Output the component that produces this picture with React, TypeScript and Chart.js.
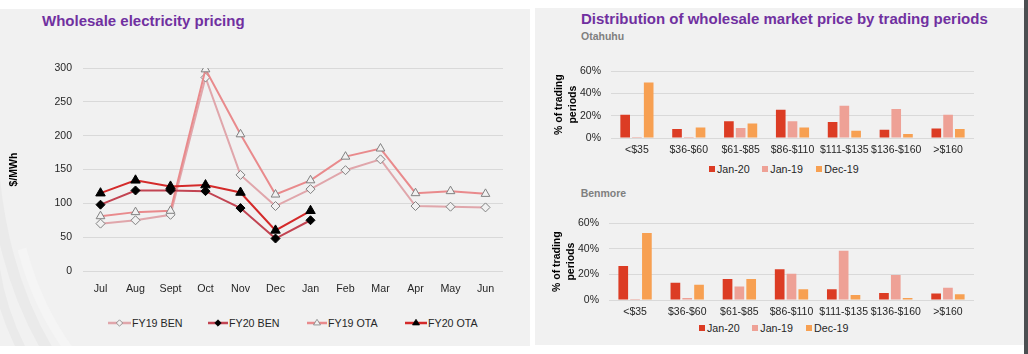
import React, { useEffect, useRef } from 'react';
import Chart from 'chart.js/auto';

const FONT = "'Liberation Sans', Arial, sans-serif";
const PURPLE = '#7030a0';
const TEXT = '#262626';
const GRID = '#d9d9d9';

// ---- Left chart data ----
const months = ['Jul', 'Aug', 'Sept', 'Oct', 'Nov', 'Dec', 'Jan', 'Feb', 'Mar', 'Apr', 'May', 'Jun'];
const fy19Ben = [70, 75, 83, 286, 142, 96, 121, 149, 165, 96, 95, 94];
const fy20Ben = [98, 119, 119, 118, 93, 48, 75, null, null, null, null, null];
const fy19Ota = [81, 87, 89, 298, 202, 113, 134, 169, 181, 115, 118, 114];
const fy20Ota = [115, 134, 125, 127, 116, 60, 89, null, null, null, null, null];
const priceTicks = [0, 50, 100, 150, 200, 250, 300];

// ---- Right charts data ----
const priceBands = ['<$35', '$36-$60', '$61-$85', '$86-$110', '$111-$135', '$136-$160', '>$160'];
const otaJan20 = [21, 8, 15, 25.5, 14.5, 7.5, 8.5];
const otaJan19 = [0.8, 0.8, 9, 15, 29, 26, 21];
const otaDec19 = [50, 9.5, 13, 9.5, 6.5, 3.5, 8];
const benJan20 = [26.5, 13.5, 16.5, 24, 8.5, 5.5, 5];
const benJan19 = [0.8, 1.5, 10.5, 20.5, 38.5, 19.5, 9.5];
const benDec19 = [52.5, 12, 16.5, 8.5, 4, 1.5, 4.5];
const pctTicks = [0, 20, 40, 60];

const C_JAN20 = '#dc3c24';
const C_JAN19 = '#eea196';
const C_DEC19 = '#f7a052';

const lineSeries = [
  { label: 'FY19 BEN', data: fy19Ben, color: '#e0a6ab', style: 'rectRot', r: 4.5, filled: false, order: 3 },
  { label: 'FY20 BEN', data: fy20Ben, color: '#c24452', style: 'rectRot', r: 4.5, filled: true, order: 1 },
  { label: 'FY19 OTA', data: fy19Ota, color: '#e98a8c', style: 'triangle', r: 5, filled: false, order: 2 },
  { label: 'FY20 OTA', data: fy20Ota, color: '#d42a2a', style: 'triangle', r: 5.5, filled: true, order: 0 },
];

function tickFont(size = 10.5) {
  return { family: FONT, size };
}

function makeLineConfig(): any {
  return {
    type: 'line',
    data: {
      labels: months,
      datasets: lineSeries.map((s) => ({
        label: s.label,
        data: s.data,
        borderColor: s.color,
        borderWidth: 2,
        pointStyle: s.style,
        pointRadius: s.r,
        pointBorderWidth: 1,
        pointBorderColor: s.filled ? '#000' : '#808080',
        pointBackgroundColor: s.filled ? '#000' : '#f1f1f1',
        order: s.order,
        tension: 0,
      })),
    },
    options: {
      animation: false,
      responsive: false,
      maintainAspectRatio: false,
      layout: { padding: { top: 28, right: 17, left: 0, bottom: 0 } },
      plugins: { legend: { display: false }, tooltip: { enabled: false } },
      scales: {
        x: {
          offset: true,
          grid: { display: false, drawTicks: false, offset: true },
          border: { display: false },
          ticks: { font: tickFont(10.7), color: TEXT, padding: 12, maxRotation: 0, autoSkip: false },
          afterFit: (s: any) => { s.height = 39; },
        },
        y: {
          min: priceTicks[0],
          max: priceTicks[priceTicks.length - 1],
          afterBuildTicks: (s: any) => { s.ticks = priceTicks.map((v) => ({ value: v })); },
          grid: { color: GRID, lineWidth: 1, drawTicks: false },
          border: { display: false },
          ticks: { font: tickFont(10.5), color: TEXT, padding: 11 },
          title: { display: true, text: '$/MWh', font: { family: FONT, size: 10.5, weight: 'bold' }, color: '#000', padding: { top: 8, bottom: 0 } },
          afterFit: (s: any) => { s.width = 83; },
        },
      },
    },
  };
}

function makeBarConfig(j20: number[], j19: number[], d19: number[], yWidth: number, titlePad: number, xHeight: number): any {
  const mk = (label: string, data: number[], color: string) => ({
    label, data, backgroundColor: color, borderWidth: 0,
    categoryPercentage: 0.68, barPercentage: 0.82,
  });
  return {
    type: 'bar',
    data: {
      labels: priceBands,
      datasets: [mk('Jan-20', j20, C_JAN20), mk('Jan-19', j19, C_JAN19), mk('Dec-19', d19, C_DEC19)],
    },
    options: {
      animation: false,
      responsive: false,
      maintainAspectRatio: false,
      layout: { padding: { top: 15, right: 26, left: 0, bottom: 0 } },
      plugins: { legend: { display: false }, tooltip: { enabled: false } },
      scales: {
        x: {
          grid: { display: false, drawTicks: false },
          border: { display: false },
          ticks: { font: tickFont(10.5), color: TEXT, padding: 6, maxRotation: 0, autoSkip: false },
          afterFit: (s: any) => { s.height = xHeight; },
        },
        y: {
          min: pctTicks[0],
          max: pctTicks[pctTicks.length - 1],
          afterBuildTicks: (s: any) => { s.ticks = pctTicks.map((v) => ({ value: v })); },
          grid: { color: GRID, lineWidth: 1, drawTicks: false },
          border: { display: false },
          ticks: { font: tickFont(10.5), color: TEXT, padding: 10, callback: (v: any) => v + '%' },
          title: {
            display: true,
            text: ['% of trading', 'periods'],
            font: { family: FONT, size: 10.5, weight: 'bold', lineHeight: 1.33 },
            color: '#000',
            padding: { top: titlePad, bottom: 0 },
          },
          afterFit: (s: any) => { s.width = yWidth; },
        },
      },
    },
  };
}

function ChartCanvas({ config, left, top, width, height }: any) {
  const ref = useRef<HTMLCanvasElement | null>(null);
  useEffect(() => {
    const chart = new Chart(ref.current as HTMLCanvasElement, config());
    return () => chart.destroy();
  }, []);
  return (
    <canvas
      ref={ref}
      width={width}
      height={height}
      style={{ position: 'absolute', left, top, width, height }}
    />
  );
}

function LineLegendItem({ s, left, lineW }: any) {
  const cx = lineW / 2;
  const cy = 5;
  const r = 3.2;
  let marker;
  if (s.style === 'rectRot') {
    marker = <polygon points={`${cx},${cy - r} ${cx + r},${cy} ${cx},${cy + r} ${cx - r},${cy}`} fill={s.filled ? '#000' : '#f1f1f1'} stroke={s.filled ? '#000' : '#808080'} strokeWidth={0.8} />;
  } else {
    marker = <polygon points={`${cx},${cy - r - 0.5} ${cx + r + 0.3},${cy + r * 0.6} ${cx - r - 0.3},${cy + r * 0.6}`} fill={s.filled ? '#000' : '#f1f1f1'} stroke={s.filled ? '#000' : '#808080'} strokeWidth={0.8} />;
  }
  return (
    <div style={{ position: 'absolute', left, top: 316.5, height: 12, display: 'flex', alignItems: 'center', whiteSpace: 'nowrap' }}>
      <svg width={lineW} height={10} style={{ display: 'block' }}>
        <line x1={0} y1={cy} x2={lineW} y2={cy} stroke={s.color} strokeWidth={2.5} />
        {marker}
      </svg>
      <span style={{ fontFamily: FONT, fontSize: 10.7, color: TEXT, lineHeight: '12px', marginLeft: 1 }}>{s.label}</span>
    </div>
  );
}

function SquareLegend({ items, top }: any) {
  return (
    <>
      {items.map((it: any) => (
        <div key={it.label} style={{ position: 'absolute', left: it.x, top, height: 12, display: 'flex', alignItems: 'center', whiteSpace: 'nowrap' }}>
          <div style={{ width: 6, height: 6, background: it.color, marginRight: 2 }} />
          <span style={{ fontFamily: FONT, fontSize: 10.7, color: TEXT, lineHeight: '12px' }}>{it.label}</span>
        </div>
      ))}
    </>
  );
}

export default function App() {
  return (
    <div style={{ position: 'fixed', left: 0, top: 0, width: 1028, height: 354, background: '#fff', overflow: 'hidden' }}>
      {/* left panel */}
      <div style={{ position: 'absolute', left: 0, top: 9, width: 530, height: 337, background: '#f1f1f1', overflow: 'hidden' }}>
        <svg width={530} height={337} style={{ position: 'absolute', left: 0, top: 0 }}>
          <path d="M -6 165 Q 4 270 50 345" stroke="#eaeaea" strokeWidth={11} fill="none" />
          <path d="M -6 250 Q 0 300 24 345" stroke="#eaeaea" strokeWidth={9} fill="none" />
          <path d="M 22 240 Q 38 300 72 345" stroke="#f5f5f5" strokeWidth={9} fill="none" />
        </svg>
      </div>
      {/* right panel */}
      <div style={{ position: 'absolute', left: 535, top: 8, width: 489, height: 337, background: '#f1f1f1' }} />
      {/* dark edge */}
      <div style={{ position: 'absolute', left: 1024, top: 0, width: 4, height: 354, background: '#4b4e51' }} />

      <div style={{ position: 'absolute', left: 42, top: 11, fontFamily: FONT, fontSize: 15, fontWeight: 'bold', color: PURPLE, lineHeight: '20px', whiteSpace: 'nowrap' }}>
        Wholesale electricity pricing
      </div>
      <div style={{ position: 'absolute', left: 581, top: 8.5, fontFamily: FONT, fontSize: 15, fontWeight: 'bold', color: PURPLE, lineHeight: '20px', whiteSpace: 'nowrap' }}>
        Distribution of wholesale market price by trading periods
      </div>
      <div style={{ position: 'absolute', left: 581, top: 29.5, fontFamily: FONT, fontSize: 10.5, fontWeight: 'bold', color: '#7f7f7f', lineHeight: '12px' }}>
        Otahuhu
      </div>
      <div style={{ position: 'absolute', left: 580.7, top: 187, fontFamily: FONT, fontSize: 10.5, fontWeight: 'bold', color: '#7f7f7f', lineHeight: '12px' }}>
        Benmore
      </div>

      <ChartCanvas config={makeLineConfig} left={0} top={40} width={520} height={270} />
      <LineLegendItem s={lineSeries[0]} left={108} lineW={23} />
      <LineLegendItem s={lineSeries[1]} left={208} lineW={20} />
      <LineLegendItem s={lineSeries[2]} left={307} lineW={20} />
      <LineLegendItem s={lineSeries[3]} left={405} lineW={22} />

      <ChartCanvas config={() => makeBarConfig(otaJan20, otaJan19, otaDec19, 76, 17.2, 22)} left={535} top={55} width={465} height={105} />
      <SquareLegend top={163.3} items={[
        { label: 'Jan-20', color: C_JAN20, x: 709 },
        { label: 'Jan-19', color: C_JAN19, x: 762.3 },
        { label: 'Dec-19', color: C_DEC19, x: 816.3 },
      ]} />

      <ChartCanvas config={() => makeBarConfig(benJan20, benJan19, benDec19, 74, 15.5, 20)} left={535} top={207} width={465} height={113} />
      <SquareLegend top={322.3} items={[
        { label: 'Jan-20', color: C_JAN20, x: 699 },
        { label: 'Jan-19', color: C_JAN19, x: 752.3 },
        { label: 'Dec-19', color: C_DEC19, x: 806 },
      ]} />
    </div>
  );
}
